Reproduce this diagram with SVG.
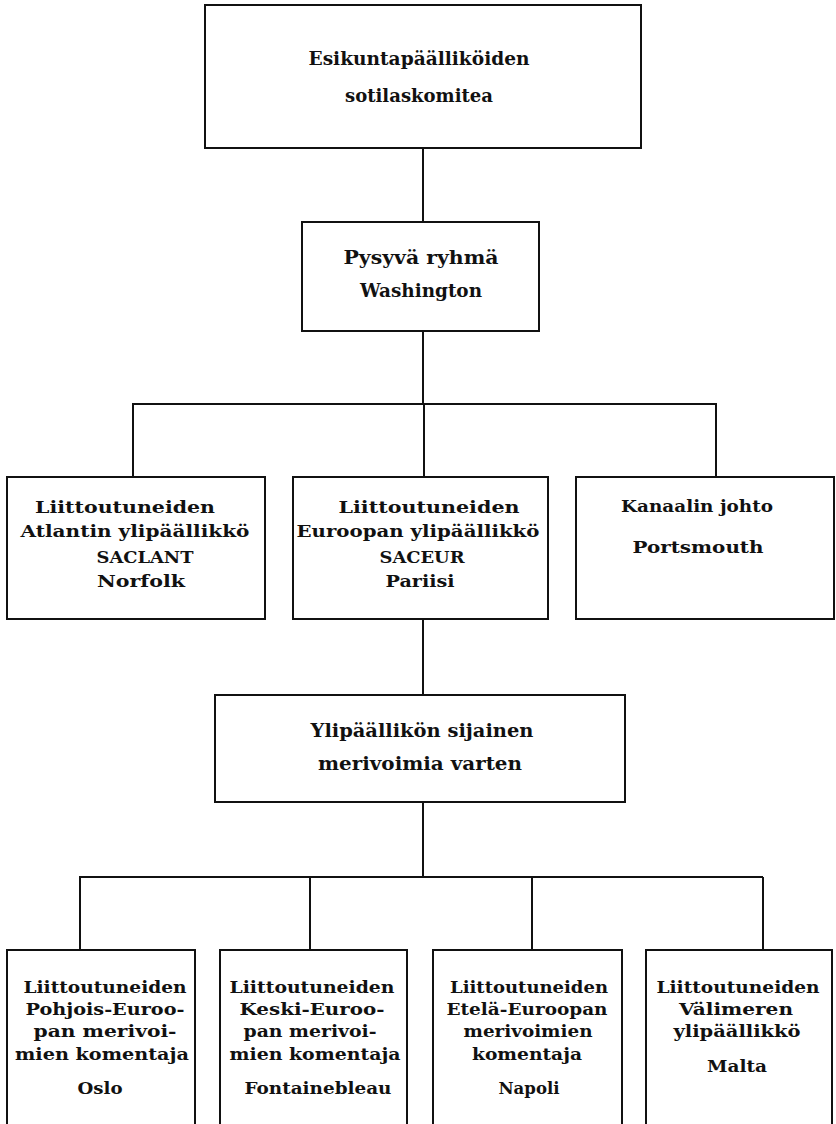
<svg xmlns="http://www.w3.org/2000/svg" width="836" height="1124" viewBox="0 0 836 1124">
<style>
.bx{fill:none;stroke:#111;stroke-width:2}
.ln{fill:none;stroke:#111;stroke-width:2}
text{font-family:"DejaVu Serif","Liberation Serif",serif;font-weight:bold;fill:#111;text-anchor:middle}
.t1{font-size:19px}
.t2{font-size:17px}
.t3{font-size:16px}
</style>
<rect width="836" height="1124" fill="#fff"/>
<g id="connectors">
<path class="ln" d="M423,148V222"/>
<path class="ln" d="M423,331V404"/>
<path class="ln" d="M132,404H717"/>
<path class="ln" d="M133,404V477M424,404V477M716,404V477"/>
<path class="ln" d="M423,619V695"/>
<path class="ln" d="M423,802V877"/>
<path class="ln" d="M79,877H763"/>
<path class="ln" d="M80,877V950M310,877V950M532,877V950M763,877V950"/>
</g>
<g id="n-esikunta">
<rect class="bx" x="205" y="5" width="436" height="143"/>
<text class="t1" x="419" y="65" textLength="221" lengthAdjust="spacingAndGlyphs">Esikuntapäälliköiden</text>
<text class="t1" x="419" y="102" textLength="148" lengthAdjust="spacingAndGlyphs">sotilaskomitea</text>
</g>
<g id="n-pysyva">
<rect class="bx" x="302" y="222" width="237" height="109"/>
<text class="t1" x="421" y="264" textLength="155" lengthAdjust="spacingAndGlyphs">Pysyvä ryhmä</text>
<text class="t1" x="421" y="297" textLength="122" lengthAdjust="spacingAndGlyphs">Washington</text>
</g>
<g id="n-saclant">
<rect class="bx" x="7" y="477" width="258" height="142"/>
<text class="t2" x="125" y="513" textLength="180" lengthAdjust="spacingAndGlyphs">Liittoutuneiden</text>
<text class="t2" x="135" y="537" textLength="229" lengthAdjust="spacingAndGlyphs">Atlantin  ylipäällikkö</text>
<text class="t2" x="145" y="563" textLength="97" lengthAdjust="spacingAndGlyphs">SACLANT</text>
<text class="t2" x="141" y="587" textLength="88" lengthAdjust="spacingAndGlyphs">Norfolk</text>
</g>
<g id="n-saceur">
<rect class="bx" x="293" y="477" width="255" height="142"/>
<text class="t2" x="429" y="513" textLength="181" lengthAdjust="spacingAndGlyphs">Liittoutuneiden</text>
<text class="t2" x="418" y="537" textLength="243" lengthAdjust="spacingAndGlyphs">Euroopan  ylipäällikkö</text>
<text class="t2" x="422" y="563" textLength="85" lengthAdjust="spacingAndGlyphs">SACEUR</text>
<text class="t2" x="420" y="587" textLength="69" lengthAdjust="spacingAndGlyphs">Pariisi</text>
</g>
<g id="n-kanaali">
<rect class="bx" x="576" y="477" width="258" height="142"/>
<text class="t2" x="697" y="512" textLength="152" lengthAdjust="spacingAndGlyphs">Kanaalin  johto</text>
<text class="t2" x="698" y="553" textLength="131" lengthAdjust="spacingAndGlyphs">Portsmouth</text>
</g>
<g id="n-sijainen">
<rect class="bx" x="215" y="695" width="410" height="107"/>
<text class="t1" x="422" y="737" textLength="223" lengthAdjust="spacingAndGlyphs">Ylipäällikön  sijainen</text>
<text class="t1" x="420" y="770" textLength="204" lengthAdjust="spacingAndGlyphs">merivoimia  varten</text>
</g>
<g id="n-oslo">
<path class="bx" d="M7,1124V950H195V1124"/>
<text class="t3" x="105" y="993" textLength="163" lengthAdjust="spacingAndGlyphs">Liittoutuneiden</text>
<text class="t3" x="105" y="1015" textLength="159" lengthAdjust="spacingAndGlyphs">Pohjois-Euroo-</text>
<text class="t3" x="105" y="1037" textLength="143" lengthAdjust="spacingAndGlyphs">pan  merivoi-</text>
<text class="t3" x="102" y="1060" textLength="174" lengthAdjust="spacingAndGlyphs">mien  komentaja</text>
<text class="t3" x="100" y="1094" textLength="45" lengthAdjust="spacingAndGlyphs">Oslo</text>
</g>
<g id="n-fontainebleau">
<path class="bx" d="M220,1124V950H407V1124"/>
<text class="t3" x="312" y="993" textLength="165" lengthAdjust="spacingAndGlyphs">Liittoutuneiden</text>
<text class="t3" x="312" y="1015" textLength="145" lengthAdjust="spacingAndGlyphs">Keski-Euroo-</text>
<text class="t3" x="310" y="1037" textLength="133" lengthAdjust="spacingAndGlyphs">pan  merivoi-</text>
<text class="t3" x="315" y="1060" textLength="171" lengthAdjust="spacingAndGlyphs">mien komentaja</text>
<text class="t3" x="318" y="1094" textLength="147" lengthAdjust="spacingAndGlyphs">Fontainebleau</text>
</g>
<g id="n-napoli">
<path class="bx" d="M433,1124V950H622V1124"/>
<text class="t3" x="529" y="993" textLength="158" lengthAdjust="spacingAndGlyphs">Liittoutuneiden</text>
<text class="t3" x="527" y="1015" textLength="161" lengthAdjust="spacingAndGlyphs">Etelä-Euroopan</text>
<text class="t3" x="528" y="1037" textLength="129" lengthAdjust="spacingAndGlyphs">merivoimien</text>
<text class="t3" x="527" y="1060" textLength="110" lengthAdjust="spacingAndGlyphs">komentaja</text>
<text class="t3" x="529" y="1094" textLength="61" lengthAdjust="spacingAndGlyphs">Napoli</text>
</g>
<g id="n-malta">
<path class="bx" d="M646,1124V950H832V1124"/>
<text class="t3" x="738" y="993" textLength="163" lengthAdjust="spacingAndGlyphs">Liittoutuneiden</text>
<text class="t3" x="736" y="1015" textLength="114" lengthAdjust="spacingAndGlyphs">Välimeren</text>
<text class="t3" x="737" y="1037" textLength="127" lengthAdjust="spacingAndGlyphs">ylipäällikkö</text>
<text class="t3" x="737" y="1072" textLength="60" lengthAdjust="spacingAndGlyphs">Malta</text>
</g>
</svg>
